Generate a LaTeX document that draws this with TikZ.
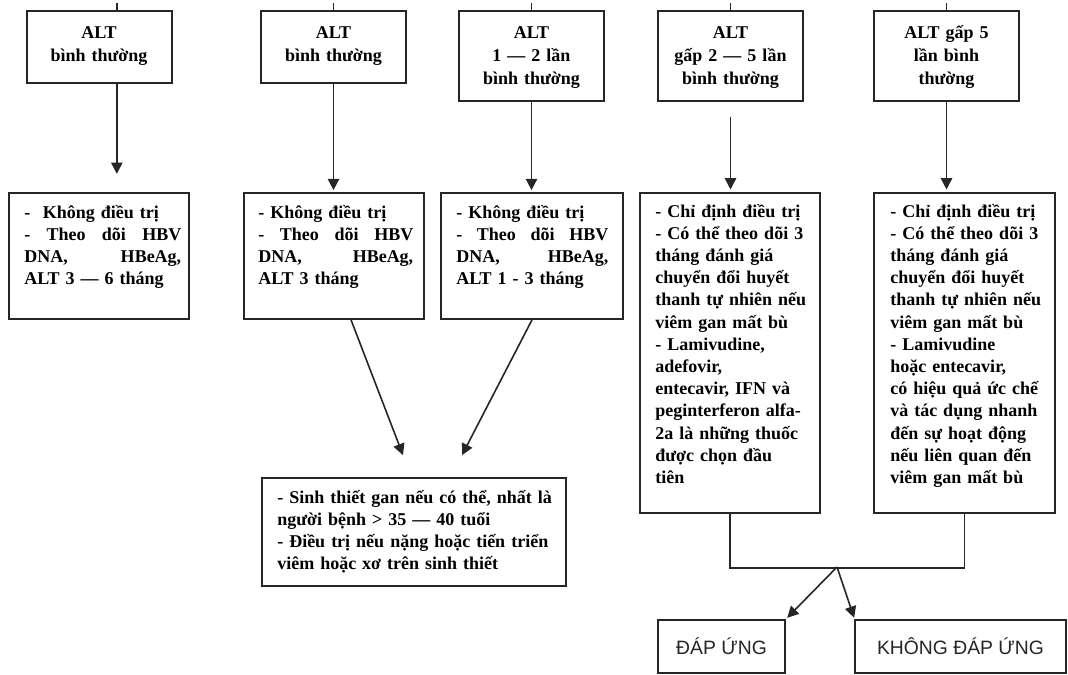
\documentclass[tikz,border=0pt]{standalone}
\usepackage{fontspec}
\setmainfont{Liberation Serif}
\newfontfamily\sansf{Liberation Sans}
\usetikzlibrary{arrows.meta,fit}
\begin{document}
\begin{tikzpicture}[x=0.75pt,y=-0.75pt,
  box/.style={draw=black!85,line width=1.3pt,inner sep=0pt},
  ln/.style={draw=black!85,line width=1.2pt},
  arr/.style={ln,-{Triangle[length=8.5pt,width=8.5pt]}},
  ttl/.style={font=\bfseries\fontsize{13.5}{17.25}\selectfont,align=center,text width=#1,inner sep=0pt,anchor=base},
  body/.style={font=\bfseries\fontsize{13.5}{16.5}\selectfont,align=left,text width=#1,inner sep=0pt,anchor=base west},
  ans/.style={font=\sansf\fontsize{14.5}{17}\selectfont,text=black!85}
]
\fill[white] (0,0) rectangle (1068,675);
\useasboundingbox (0,0) rectangle (1068,675);

% top row
\node[box,fit={(27,11)(172,83)}] (T1) {};
\node[box,fit={(261,11)(406,83)}] (T2) {};
\node[box,fit={(459,11)(604,101)}] (T3) {};
\node[box,fit={(658,11)(803,101)}] (T4) {};
\node[box,fit={(874,11)(1019,101)}] (T5) {};
\node[ttl=105pt] (T1t) at (99,38) {ALT\\bình thường};
\node[ttl=105pt] (T2t) at (333.5,38) {ALT\\bình thường};
\node[ttl=105pt] (T3t) at (531.5,38) {ALT\\1 — 2 lần\\bình thường};
\node[ttl=105pt] (T4t) at (730.5,38) {ALT\\gấp 2 — 5 lần\\bình thường};
\node[ttl=105pt] (T5t) at (946.5,38) {ALT gấp 5\\lần bình\\thường};

% middle row
\node[box,fit={(9,193)(189,319)}] (A) {};
\node[box,fit={(244,193)(424,319)}] (B) {};
\node[box,fit={(441,193)(623,319)}] (C) {};
\node[box,fit={(640,193)(820,513)}] (D) {};
\node[box,fit={(874,193)(1055,513)}] (E) {};

\node[body=117.75pt] (At) at (24,218) {-\hspace{0.7em}Không điều trị\\-\hfill Theo\hfill dõi\hfill HBV\\DNA,\hfill HBeAg,\\ALT 3 — 6 tháng};
\node[body=116.25pt] (Bt) at (258,218) {- Không điều trị\\-\hfill Theo\hfill dõi\hfill HBV\\DNA,\hfill HBeAg,\\ALT 3 tháng};
\node[body=114pt] (Ct) at (456,218) {- Không điều trị\\-\hfill Theo\hfill dõi\hfill HBV\\DNA,\hfill HBeAg,\\ALT 1 - 3 tháng};
\node[body=125pt,font=\bfseries\fontsize{13.5}{16.65}\selectfont] (Dt) at (655,217) {- Chỉ định điều trị\\- Có thể theo dõi 3\\tháng đánh giá\\chuyển đổi huyết\\thanh tự nhiên nếu\\viêm gan mất bù\\- Lamivudine,\\adefovir,\\entecavir, IFN và\\peginterferon alfa-\\2a là những thuốc\\được chọn đầu\\tiên};
\node[body=125pt,font=\bfseries\fontsize{13.5}{16.65}\selectfont] (Et) at (890,217) {- Chỉ định điều trị\\- Có thể theo dõi 3\\tháng đánh giá\\chuyển đổi huyết\\thanh tự nhiên nếu\\viêm gan mất bù\\- Lamivudine\\hoặc entecavir,\\có hiệu quả ức chế\\và tác dụng nhanh\\đến sự hoạt động\\nếu liên quan đến\\viêm gan mất bù};

% bottom box
\node[box,fit={(262,478)(566,586)}] (F) {};
\node[body=220pt] (Ft) at (277,503) {- Sinh thiết gan nếu có thể, nhất là\\người bệnh > 35 — 40 tuổi\\- Điều trị nếu nặng hoặc tiến triển\\viêm hoặc xơ trên sinh thiết};

% response boxes
\node[box,fit={(658,620)(785,673)}] (R1) {};
\node[box,fit={(855,620)(1066,673)}] (R2) {};
\node[ans] (R1t) at (R1.center) {ĐÁP ỨNG};
\node[ans] (R2t) at (R2.center) {KHÔNG ĐÁP ỨNG};

% ticks from above
\foreach \n/\x in {T1/117,T2/333.5,T3/531.5,T4/730.5,T5/946.5}{
  \coordinate (k\n) at (\x,3);
  \draw[ln] (k\n) -- (k\n |- \n.north);
}

% arrows
\draw[arr] ([xshift=13pt]T1.south) -- ++(0,90);
\draw[arr] (T2.south) -- ([yshift=1.5pt]T2.south |- B.north);
\draw[arr] (T3.south) -- ([yshift=1.5pt]T3.south |- C.north);
\draw[arr] ([yshift=-11pt]T4.south) -- ([yshift=2pt]T4.south |- D.north);
\draw[arr] (T5.south) -- ([yshift=2pt]T5.south |- E.north);

\draw[arr] ([xshift=12.75pt]B.south) -- ([xshift=-8.25pt,yshift=16.5pt]F.north);
\draw[arr] (C.south) -- ([xshift=36pt,yshift=16.5pt]F.north);

\draw[ln] (D.south) -- ++(0,54) -| (E.south);
\coordinate (apex) at (837,567);
\draw[arr] (apex) -- ([xshift=1pt,yshift=1pt]R1.north east);
\draw[arr] (apex) -- ([yshift=1pt]R2.north west);
\end{tikzpicture}
\end{document}
